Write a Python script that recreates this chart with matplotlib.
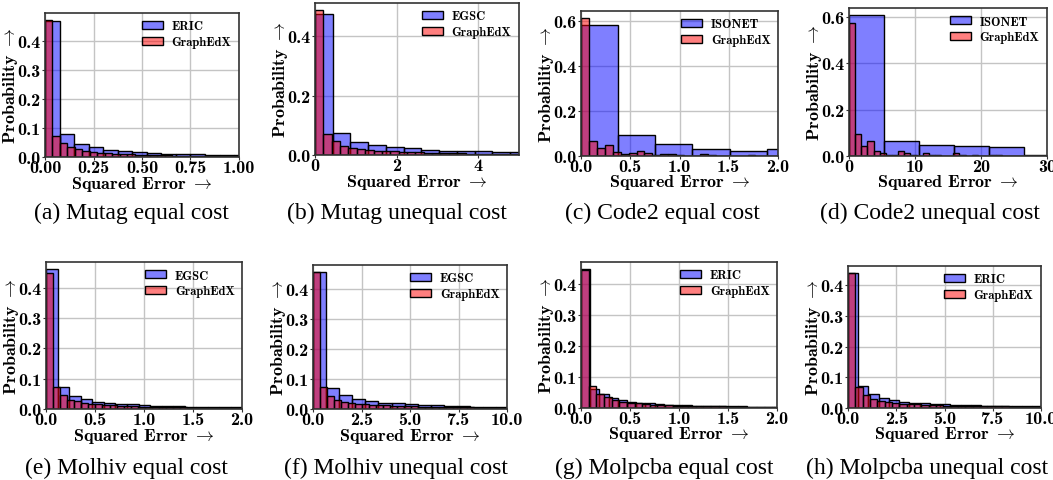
import numpy as np
import matplotlib
matplotlib.use('Agg')
import matplotlib.pyplot as plt
from matplotlib.ticker import MultipleLocator

plt.rcParams['font.family'] = 'cmb10'
plt.rcParams['mathtext.fontset'] = 'cm'
plt.rcParams['axes.unicode_minus'] = False

# ---- data (bin width + probability per bin) ----
captions = ['(a) Mutag equal cost', '(b) Mutag unequal cost', '(c) Code2 equal cost',
            '(d) Code2 unequal cost', '(e) Molhiv equal cost', '(f) Molhiv unequal cost',
            '(g) Molpcba equal cost', '(h) Molpcba unequal cost']
baselines = ['ERIC', 'EGSC', 'ISONET', 'ISONET', 'EGSC', 'EGSC', 'ERIC', 'ERIC']
x_max = [1.0, 5.0, 2.0, 30.0, 2.0, 10.0, 2.0, 10.0]

base_width = [0.075, 0.435, 0.377, 5.31, 0.118, 0.675, 0.094, 0.53]
ours_width = [0.0386, 0.205, 0.0805, 0.93, 0.072, 0.36, 0.078, 0.38]

base_a = [0.470, 0.080, 0.045, 0.036, 0.025, 0.022, 0.017, 0.014, 0.012, 0.011, 0.009, 0.008, 0.007, 0.007]
ours_a = [0.474, 0.072, 0.048, 0.033, 0.027, 0.021, 0.017, 0.015, 0.013, 0.011, 0.010, 0.009, 0.008,
          0.008, 0.007, 0.006, 0.006, 0.005, 0.005, 0.005, 0.004, 0.004, 0.004, 0.004, 0.003, 0.003]

base_b = [0.476, 0.074, 0.045, 0.035, 0.026, 0.023, 0.018, 0.015, 0.013, 0.012, 0.010, 0.009]
ours_b = [0.488, 0.072, 0.046, 0.031, 0.024, 0.020, 0.017, 0.015, 0.013, 0.012, 0.011, 0.010, 0.009,
          0.008, 0.007, 0.007, 0.006, 0.006, 0.005, 0.005, 0.005, 0.004, 0.004, 0.004, 0.003]

base_c = [0.585, 0.093, 0.055, 0.033, 0.021, 0.033]
ours_c = [0.615, 0.067, 0.037, 0.048, 0.020, 0.007, 0.012, 0.022, 0.014, 0.003, 0.007, 0.010, 0.003,
          0.001, 0.000, 0.007, 0.003, 0.001, 0.000, 0.002, 0.001, 0.003, 0.000, 0.001, 0.000]

base_d = [0.607, 0.065, 0.048, 0.043, 0.040, 0.006]
ours_d = [0.574, 0.093, 0.042, 0.064, 0.020, 0.015, 0.006, 0.006, 0.020, 0.013, 0.004, 0.002, 0.012,
          0.006, 0.003, 0.002, 0.002, 0.012, 0.004, 0.002, 0.003, 0.002, 0.001, 0.004, 0.003, 0.001,
          0.001, 0.002, 0.001, 0.001, 0.001, 0.000, 0.001]

base_e = [0.462, 0.074, 0.044, 0.033, 0.024, 0.021, 0.018, 0.015, 0.013, 0.011, 0.010, 0.009, 0.008,
          0.007, 0.006, 0.006, 0.005]
ours_e = [0.448, 0.074, 0.046, 0.031, 0.027, 0.021, 0.018, 0.015, 0.013, 0.012, 0.011, 0.010, 0.009,
          0.008, 0.007, 0.007, 0.006, 0.006, 0.005, 0.005, 0.004, 0.004, 0.004, 0.003, 0.003, 0.003,
          0.003, 0.002]

base_f = [0.456, 0.069, 0.047, 0.032, 0.026, 0.021, 0.019, 0.017, 0.014, 0.012, 0.010, 0.009, 0.008,
          0.008, 0.007]
ours_f = [0.456, 0.072, 0.044, 0.031, 0.024, 0.020, 0.018, 0.016, 0.014, 0.013, 0.012, 0.011, 0.010,
          0.009, 0.009, 0.008, 0.007, 0.007, 0.006, 0.006, 0.005, 0.005, 0.005, 0.004, 0.004, 0.004,
          0.003, 0.003]

base_g = [0.449, 0.062, 0.044, 0.032, 0.026, 0.020, 0.017, 0.015, 0.013, 0.011, 0.010, 0.009, 0.008,
          0.007, 0.006, 0.006, 0.005, 0.005, 0.004, 0.004, 0.004, 0.003]
ours_g = [0.447, 0.070, 0.044, 0.036, 0.025, 0.019, 0.016, 0.015, 0.012, 0.011, 0.010, 0.009, 0.008,
          0.007, 0.007, 0.006, 0.005, 0.005, 0.005, 0.004, 0.004, 0.004, 0.003, 0.003, 0.003, 0.003]

base_h = [0.441, 0.071, 0.045, 0.032, 0.026, 0.021, 0.017, 0.015, 0.013, 0.012, 0.011, 0.010, 0.009,
          0.008, 0.007, 0.006, 0.006, 0.005, 0.005]
ours_h = [0.440, 0.068, 0.041, 0.030, 0.023, 0.019, 0.016, 0.014, 0.013, 0.012, 0.011, 0.010, 0.009,
          0.008, 0.008, 0.007, 0.007, 0.006, 0.006, 0.005, 0.005, 0.005, 0.004, 0.004, 0.004, 0.003,
          0.003]

base_probs = [base_a, base_b, base_c, base_d, base_e, base_f, base_g, base_h]
ours_probs = [ours_a, ours_b, ours_c, ours_d, ours_e, ours_f, ours_g, ours_h]

# ---- layout (pixels: left, top, right, bottom) ----
W, H = 1053, 481
boxes = [(45, 14, 239, 158), (315, 4, 519, 156), (581, 12, 778, 157), (849, 9, 1047, 157),
         (46, 263, 242, 410), (313, 266, 507, 410), (581, 263, 777, 409), (848, 267, 1041, 409)]
cap_pos = [(131, 213), (397, 213), (662, 213), (930, 213),
           (126, 468), (396, 468), (664, 468), (927, 468)]
x_step = [0.25, 2, 0.5, 10, 0.5, 2.5, 0.5, 2.5]
y_step = [0.1, 0.2, 0.2, 0.2, 0.1, 0.1, 0.1, 0.1]

fig = plt.figure(figsize=(W / 100, H / 100), dpi=100)

for i in range(8):
    l, t, r, b = boxes[i]
    wpx, hpx = r - l, b - t
    ax = fig.add_axes([l / W, 1 - b / H, wpx / W, hpx / H])
    ax.set_axisbelow(True)
    ax.grid(color='#c4c4c4', lw=1.0)

    bw = base_width[i]
    bh = base_probs[i]
    be = np.arange(len(bh)) * bw
    ax.bar(be, bh, width=bw, align='edge', color=(0, 0, 1, 0.5),
           edgecolor='black', lw=1.0, label=baselines[i])

    ow = ours_width[i]
    oh = ours_probs[i]
    oe = np.arange(len(oh)) * ow
    ax.bar(oe, oh, width=ow, align='edge', color=(1, 0, 0, 0.5),
           edgecolor='black', lw=1.0, label='GraphEdX')

    ax.set_xlim(0, x_max[i])
    ax.xaxis.set_major_locator(MultipleLocator(x_step[i]))
    ax.yaxis.set_major_locator(MultipleLocator(y_step[i]))
    ax.tick_params(labelsize=13, length=2.5, pad=0.5, color='#333333')
    ax.tick_params(axis='x', pad=0)
    for s in ax.spines.values():
        s.set_color('#333333')
        s.set_linewidth(1.2)
    ax.set_xlabel('Squared Error$\\;\\rightarrow$', fontsize=13, va='center')
    ax.xaxis.set_label_coords(0.5, -26 / hpx)
    ax.set_ylabel('Probability$\\;\\rightarrow$', fontsize=13, va='center', ha='center')
    ax.yaxis.set_label_coords(-34.5 / wpx, 0.5)
    ax.legend(loc='upper right', frameon=False, fontsize=9, handlelength=1.7,
              handleheight=0.65, labelspacing=0.3, borderaxespad=0.2, handletextpad=0.7)

    cx, cy = cap_pos[i]
    fig.text(cx / W, 1 - cy / H, captions[i], ha='center', va='center',
             fontsize=17, family='Liberation Serif')

fig.savefig('out.png', dpi=100)
